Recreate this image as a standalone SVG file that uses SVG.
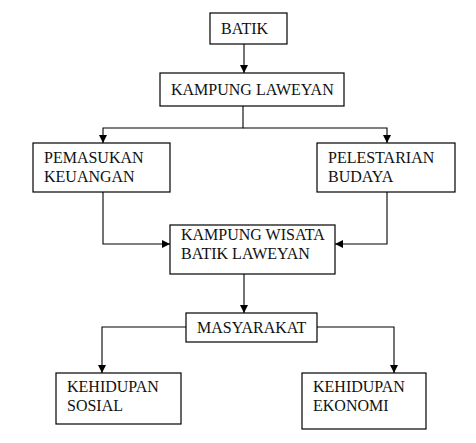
<svg xmlns="http://www.w3.org/2000/svg" width="476" height="443" viewBox="0 0 476 443">
<style>
.box{fill:#fff;stroke:#000;stroke-width:1.2}
.t{font-family:"Liberation Serif","Times New Roman",serif;font-size:16px;fill:#111}
.c{fill:none;stroke:#000;stroke-width:1.1}
</style>
<defs>
<marker id="ah" markerUnits="userSpaceOnUse" markerWidth="10" markerHeight="10" refX="8" refY="4" orient="auto">
<path d="M0,0 L8,4 L0,8 Z" fill="#000"/>
</marker>
</defs>
<rect width="476" height="443" fill="#fff"/>
<g id="connectors">
<path class="c" d="M244,44 V73" marker-end="url(#ah)"/>
<path class="c" d="M243,106 V128 H103 V143" marker-end="url(#ah)"/>
<path class="c" d="M243,128 H387 V143" marker-end="url(#ah)"/>
<path class="c" d="M103,192 V244 H170" marker-end="url(#ah)"/>
<path class="c" d="M387,192 V244 H335" marker-end="url(#ah)"/>
<path class="c" d="M244,274 V313" marker-end="url(#ah)"/>
<path class="c" d="M186,327 H102 V373" marker-end="url(#ah)"/>
<path class="c" d="M317,327 H394 V373" marker-end="url(#ah)"/>
</g>
<g id="batik"><rect class="box" x="210" y="13" width="77" height="31"/><text class="t" x="221" y="34">BATIK</text></g>
<g id="kampung-laweyan"><rect class="box" x="160" y="73" width="184" height="33"/><text class="t" x="171" y="95">KAMPUNG LAWEYAN</text></g>
<g id="pemasukan"><rect class="box" x="33" y="143" width="137" height="49"/><text class="t" x="44" y="163">PEMASUKAN</text><text class="t" x="44" y="182">KEUANGAN</text></g>
<g id="pelestarian"><rect class="box" x="317" y="143" width="138" height="49"/><text class="t" x="328" y="163">PELESTARIAN</text><text class="t" x="328" y="182">BUDAYA</text></g>
<g id="kampung-wisata"><rect class="box" x="170" y="225" width="165" height="49"/><text class="t" x="181" y="240">KAMPUNG WISATA</text><text class="t" x="181" y="259">BATIK LAWEYAN</text></g>
<g id="masyarakat"><rect class="box" x="186" y="313" width="131" height="29"/><text class="t" x="197" y="333">MASYARAKAT</text></g>
<g id="sosial"><rect class="box" x="56" y="373" width="125" height="51"/><text class="t" x="67" y="392">KEHIDUPAN</text><text class="t" x="67" y="411">SOSIAL</text></g>
<g id="ekonomi"><rect class="box" x="302" y="373" width="124" height="56"/><text class="t" x="313" y="392">KEHIDUPAN</text><text class="t" x="313" y="411">EKONOMI</text></g>
</svg>
